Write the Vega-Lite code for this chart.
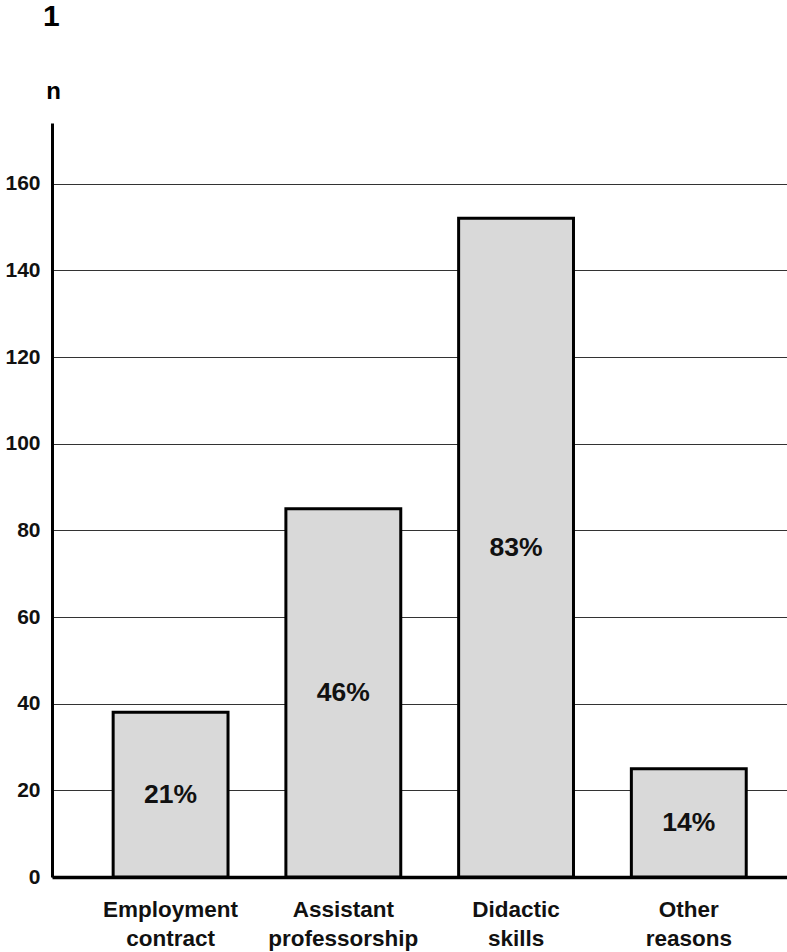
{
  "$schema": "https://vega.github.io/schema/vega-lite/v6.json",
  "autosize": {"type": "none"},
  "width": 735,
  "height": 754,
  "padding": {"left": 52, "top": 123, "right": 0, "bottom": 75},
  "background": "white",
  "title": {
    "text": "1",
    "anchor": "start",
    "frame": "group",
    "dx": -9,
    "offset": 47,
    "font": "Liberation Sans",
    "fontSize": 30,
    "fontWeight": "bold",
    "color": "black"
  },
  "config": {
    "view": {"stroke": null},
    "font": "Liberation Sans"
  },
  "data": {
    "values": [
      {"reason": "Employment contract", "n": 38, "pct": "21%"},
      {"reason": "Assistant professorship", "n": 85, "pct": "46%"},
      {"reason": "Didactic skills", "n": 152, "pct": "83%"},
      {"reason": "Other reasons", "n": 25, "pct": "14%"}
    ]
  },
  "transform": [{"calculate": "datum.n / 2", "as": "mid"}],
  "encoding": {
    "x": {
      "field": "reason",
      "type": "nominal",
      "sort": null,
      "scale": {"paddingInner": 0.335, "paddingOuter": 0.295, "align": 0.6},
      "axis": {
        "title": null,
        "labelAngle": 0,
        "labelExpr": "split(datum.label, ' ')",
        "labelFont": "Liberation Sans",
        "labelFontSize": 22.5,
        "labelFontWeight": "bold",
        "labelColor": "#111",
        "labelLineHeight": 29,
        "labelPadding": 21,
        "ticks": false,
        "domainColor": "black",
        "domainWidth": 3.5,
        "grid": false
      }
    }
  },
  "layer": [
    {
      "mark": {"type": "bar", "fill": "#d9d9d9", "stroke": "black", "strokeWidth": 3},
      "encoding": {
        "y": {
          "field": "n",
          "type": "quantitative",
          "scale": {"domain": [0, 174], "nice": false},
          "axis": {
            "title": "n",
            "titleAngle": 0,
            "titleX": 1,
            "titleY": -25,
            "titleAlign": "center",
            "titleBaseline": "alphabetic",
            "titleFont": "Liberation Sans",
            "titleFontSize": 24,
            "titleFontWeight": "bold",
            "titleColor": "black",
            "values": [0, 20, 40, 60, 80, 100, 120, 140, 160],
            "labelFont": "Liberation Sans",
            "labelFontSize": 21,
            "labelFontWeight": "bold",
            "labelColor": "#111",
            "labelPadding": 12,
            "ticks": false,
            "domainColor": "black",
            "domainWidth": 3,
            "grid": true,
            "gridColor": "#333",
            "gridWidth": 1.2
          }
        }
      }
    },
    {
      "mark": {"type": "text", "fontSize": 26.5, "fontWeight": "bold", "font": "Liberation Sans", "color": "#111", "baseline": "middle"},
      "encoding": {
        "y": {"field": "mid", "type": "quantitative"},
        "text": {"field": "pct"}
      }
    }
  ]
}
